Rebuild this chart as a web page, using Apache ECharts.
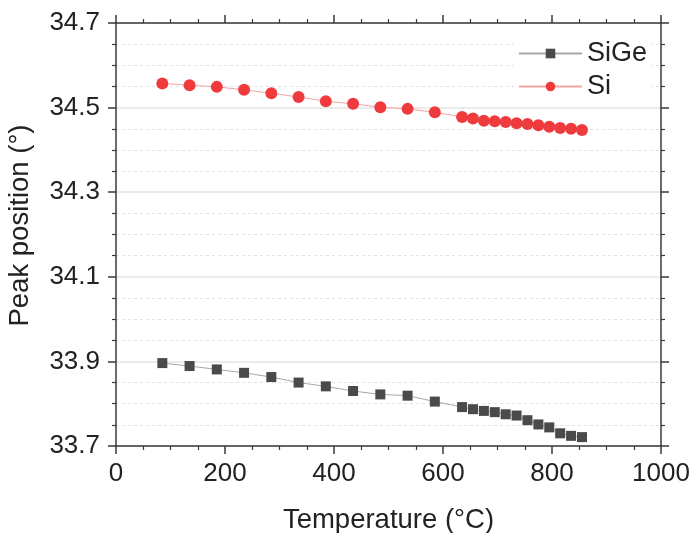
<!DOCTYPE html>
<html>
<head>
<meta charset="utf-8">
<script src="https://cdn.jsdelivr.net/npm/echarts@6/dist/echarts.min.js"></script>
<style>
html,body{margin:0;padding:0;background:#fff;}
#chart{width:694px;height:533px;}
</style>
</head>
<body>
<div id="chart"></div>
<script>
const temperatures = [85,135,185,235,285,335,385,435,485,535,585,635,655,675,695,715,735,755,775,795,815,835,855];
const siValues = [34.557,34.553,34.549,34.542,34.534,34.525,34.515,34.509,34.501,34.497,34.489,34.478,34.474,34.469,34.468,34.466,34.463,34.461,34.458,34.455,34.452,34.450,34.447];
const siGeValues = [33.896,33.889,33.881,33.873,33.863,33.850,33.841,33.830,33.822,33.819,33.805,33.792,33.787,33.783,33.780,33.775,33.772,33.761,33.751,33.744,33.730,33.724,33.721];
const seriesNames = ['SiGe','Si'];
const xTitle = 'Temperature (°C)';
const yTitle = 'Peak position (°)';

const FONT = "'Liberation Sans', Arial, sans-serif";
const axisCol = '#3a3a3a';

function pairs(xs, ys){ return xs.map((x,i)=>[x, ys[i]]); }

const chart = echarts.init(document.getElementById('chart'), null, {renderer:'canvas'});
const baseX = {
  type:'value', min:0, max:1000, interval:200, gridIndex:0,
  axisLine:{show:true, onZero:false, lineStyle:{color:axisCol, width:1.5}},
  axisTick:{show:true, inside:false, length:8, lineStyle:{color:axisCol, width:1.5}},
  minorTick:{show:true, splitNumber:4, length:4, lineStyle:{color:axisCol, width:1.2}},
  splitLine:{show:false}
};
const baseY = {
  type:'value', min:33.7, max:34.7, interval:0.2, gridIndex:0,
  axisLine:{show:true, onZero:false, lineStyle:{color:axisCol, width:1.5}},
  axisTick:{show:true, inside:false, length:8, lineStyle:{color:axisCol, width:1.5}},
  minorTick:{show:true, splitNumber:4, length:4, lineStyle:{color:axisCol, width:1.2}}
};
const option = {
  backgroundColor:'#fff',
  animation:false,
  grid:{left:116, right:33, top:23, bottom:87, containLabel:false, outerBoundsMode:'none'},
  legend:{
    data:seriesNames, orient:'vertical', left:514, top:36,
    backgroundColor:'#fff', padding:[4,4,4,4],
    itemWidth:63, itemHeight:12, itemGap:6,
    textStyle:{fontFamily:FONT, fontSize:27, color:'#222'}
  },
  xAxis:[
    Object.assign({}, baseX, {
      position:'bottom',
      name:xTitle, nameLocation:'middle', nameGap:60,
      nameTextStyle:{fontFamily:FONT, fontSize:27.5, color:'#222'},
      axisLabel:{fontFamily:FONT, fontSize:26, color:'#222', margin:15,
        formatter:v=>String(v)}
    }),
    Object.assign({}, baseX, {position:'top', axisLabel:{show:false}})
  ],
  yAxis:[
    Object.assign({}, baseY, {
      position:'left',
      name:yTitle, nameLocation:'middle', nameGap:82,
      nameTextStyle:{fontFamily:FONT, fontSize:27.5, color:'#222', padding:[0,0,0,18]},
      axisLabel:{fontFamily:FONT, fontSize:26, color:'#222', margin:16,
        formatter:v=>v.toFixed(1)},
      splitLine:{show:true, lineStyle:{color:'#e4e4e4', width:1.5}},
      minorSplitLine:{show:true, lineStyle:{color:'#e2e2e2', width:1, type:[3,3]}}
    }),
    Object.assign({}, baseY, {position:'right', axisLabel:{show:false}, splitLine:{show:false}})
  ],
  series:[
    {
      name:seriesNames[0], type:'line', xAxisIndex:0, yAxisIndex:0,
      data:pairs(temperatures, siGeValues),
      symbol:'rect', symbolSize:10,
      itemStyle:{color:'#4a4a4a'},
      lineStyle:{color:'#a8a8a8', width:1},
      z:3
    },
    {
      name:seriesNames[1], type:'line', xAxisIndex:0, yAxisIndex:0,
      data:pairs(temperatures, siValues),
      symbol:'circle', symbolSize:12,
      itemStyle:{color:'#ef3b3d'},
      lineStyle:{color:'#f4a3a3', width:1},
      z:3
    }
  ]
};
chart.setOption(option);
</script>
</body>
</html>
